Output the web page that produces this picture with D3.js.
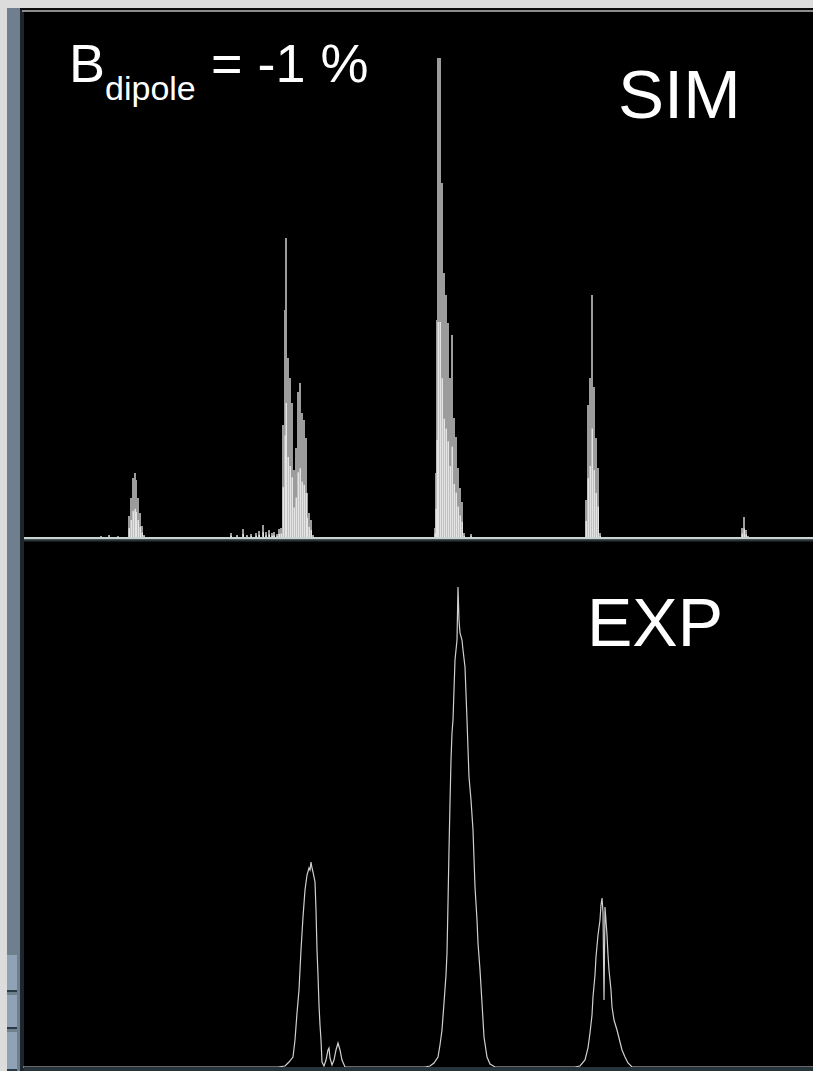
<!DOCTYPE html>
<html>
<head>
<meta charset="utf-8">
<script src="https://cdn.jsdelivr.net/npm/d3@7"></script>
<style>
  html, body { margin: 0; padding: 0; background: #dcdcdc; }
  svg { display: block; }
  text { font-family: "Liberation Sans", Arial, sans-serif; fill: #ffffff; }
</style>
</head>
<body>
<svg id="chart"></svg>
<script>
const width  = 813;
const height = 1071;

// simulated spectrum (sparse bins: channel, counts)
const simChannel = [65, 77, 85, 94,
  105, 107, 109, 111, 112, 114, 116, 118, 120,
  207, 213, 219, 223, 227, 232, 235, 239, 242, 245, 248, 250, 253, 255, 257,
  259, 261, 262, 264, 266, 268, 270, 272, 274, 276, 278, 280, 282, 283, 285, 287, 289,
  411, 412, 413, 414, 416, 418, 420, 422, 424, 426, 428, 430, 432, 434, 436, 438, 440, 447,
  562, 564, 566, 568, 570, 572, 574, 576,
  718, 720, 722, 724];
const simCount = [1, 2, 3, 2,
  22, 40, 60, 65, 58, 40, 25, 12, 3,
  5, 3, 9, 3, 4, 5, 7, 13, 6, 8, 5, 6, 4, 9, 10,
  113, 228, 300, 180, 160, 135, 68, 90, 146, 155, 125, 118, 100, 45, 25, 18, 3,
  10, 65, 218, 480, 480, 355, 265, 243, 215, 160, 203, 120, 101, 70, 50, 36, 5, 4,
  38, 133, 160, 243, 151, 100, 70, 5,
  10, 21, 8, 2];

// measured spectrum (channel, counts)
const expChannel = [0,
  255, 262, 266, 270, 272, 274, 276, 278, 280, 282, 284, 286, 287, 288, 289, 290, 292, 293,
  294, 295, 296, 297, 298, 299, 301, 303, 305, 306, 307, 309, 311, 313, 315, 317, 319, 322,
  402, 407, 411, 415, 417, 419, 421, 423, 424, 425, 426, 427, 428, 429, 430, 431, 432, 433,
  434, 435, 436, 437, 439, 440, 442, 444, 446, 448, 450, 452, 454, 455, 457, 459, 461, 464,
  467, 472,
  552, 557, 562, 565, 567, 569, 570, 572, 573, 575, 577, 578, 579, 580, 581, 582, 584, 585,
  586, 588, 589, 591, 594, 597, 599, 602, 605, 609,
  790];
const expCount = [0,
  0, 1, 5, 10, 27, 54, 77, 117, 150, 177, 192, 199, 197, 205, 199, 195, 185, 157,
  117, 92, 62, 42, 27, 5, 1, 7, 17, 19, 9, 2, 7, 17, 24, 17, 7, 0,
  0, 1, 4, 10, 22, 37, 64, 92, 114, 164, 217, 264, 307, 334, 347, 377, 407, 417,
  427, 480, 447, 434, 427, 417, 400, 347, 290, 267, 237, 180, 147, 124, 97, 64, 30, 10,
  3, 0,
  0, 1, 7, 19, 34, 52, 70, 92, 110, 132, 147, 162, 169, 155, 67, 160, 132, 112,
  97, 77, 60, 47, 37, 25, 17, 10, 4, 0,
  0];

const binWidth = 2;

const svg = d3.select("#chart")
  .attr("width", width)
  .attr("height", height);

// window frame
svg.append("rect").attr("x", 0).attr("y", 0).attr("width", width).attr("height", height).attr("fill", "#dcdcdc");
svg.append("rect").attr("x", 7).attr("y", 8).attr("width", 14).attr("height", height).attr("fill", "#6f7f8e");
[[955, 992], [995, 1029], [1032, 1071]].forEach(function(b) {
  svg.append("rect").attr("x", 7).attr("y", b[0]).attr("width", 10).attr("height", b[1] - b[0] - 2).attr("fill", "#8fa2b6");
  svg.append("rect").attr("x", 7).attr("y", b[1] - 2).attr("width", 10).attr("height", 2).attr("fill", "#2b3a44");
});
svg.append("rect").attr("x", 20).attr("y", 8).attr("width", width).attr("height", height).attr("fill", "#1c262c");
svg.append("rect").attr("x", 20).attr("y", 8).attr("width", width).attr("height", 2).attr("fill", "#0c0c0c");
svg.append("rect").attr("x", 22).attr("y", 10).attr("width", width).attr("height", 2).attr("fill", "#8c8c8c");
svg.append("rect").attr("x", 24).attr("y", 12).attr("width", width).attr("height", 1055).attr("fill", "#000000");

const x    = d3.scaleLinear().domain([0, 790]).range([23, 813]);
const ySim = d3.scaleLinear().domain([0, 500]).range([538, 38]);
const yExp = d3.scaleLinear().domain([0, 500]).range([1067, 567]);

// SIM panel: grey bins, the dense lower part drawn lighter
const sim = simChannel.map(function(c, i) { return {ch: c, n: simCount[i]}; });

const gSim = svg.append("g").attr("class", "sim");
gSim.selectAll("rect.bin")
  .data(sim)
  .join("rect")
    .attr("class", "bin")
    .attr("x", function(d) { return x(d.ch); })
    .attr("y", function(d) { return ySim(d.n); })
    .attr("width", x(binWidth) - x(0))
    .attr("height", function(d) { return ySim(0) - ySim(d.n); })
    .attr("fill", "#9c9c9c");

gSim.selectAll("rect.core")
  .data(sim)
  .join("rect")
    .attr("class", "core")
    .attr("x", function(d) { return x(d.ch) + 0.5; })
    .attr("y", function(d) { return ySim(d.n * 0.45); })
    .attr("width", x(binWidth) - x(0) - 0.5)
    .attr("height", function(d) { return ySim(0) - ySim(d.n * 0.45); })
    .attr("fill", "#e4e4e4");

// baseline between the two panels
svg.append("rect").attr("x", 24).attr("y", ySim(0) - 1).attr("width", width).attr("height", 2.5).attr("fill", "#c6d4d4");
svg.append("rect").attr("x", 24).attr("y", ySim(0) + 1.5).attr("width", width).attr("height", 2).attr("fill", "#2a3438");

// EXP panel
const exp = expChannel.map(function(c, i) { return {ch: c, n: expCount[i]}; });

const line = d3.line()
  .x(function(d) { return x(d.ch); })
  .y(function(d) { return yExp(d.n); });

svg.append("path")
  .datum(exp)
  .attr("d", line)
  .attr("fill", "none")
  .attr("stroke", "#d0d0d0")
  .attr("stroke-width", 1.2);

svg.append("rect").attr("x", 24).attr("y", 1067).attr("width", width).attr("height", 4).attr("fill", "#27343b");

// labels
const lab = svg.append("text").attr("x", 69).attr("y", 82).style("font-size", "54px");
lab.append("tspan").text("B");
lab.append("tspan").attr("dy", 18).style("font-size", "34px").text("dipole");
svg.append("text").attr("x", 211).attr("y", 82).style("font-size", "54px").text("= -1 %");

svg.append("text").attr("x", 618).attr("y", 118).style("font-size", "69px").text("SIM");
svg.append("text").attr("x", 587).attr("y", 646).style("font-size", "68px").text("EXP");
</script>
</body>
</html>
